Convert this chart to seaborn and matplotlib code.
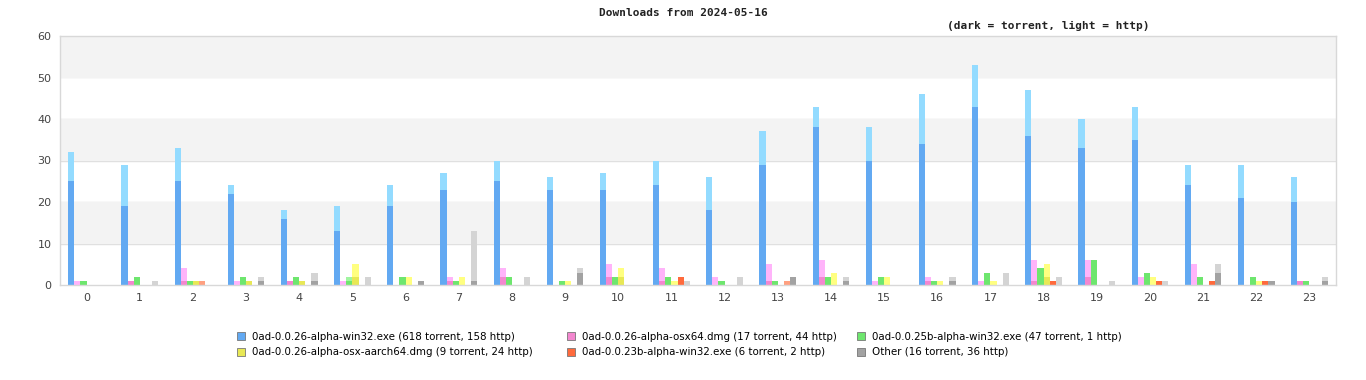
import matplotlib
matplotlib.use("Agg")
import matplotlib.pyplot as plt
from matplotlib.patches import Patch
import seaborn as sns
import pandas as pd

hours = list(range(24))

series_names = [
    "0ad-0.0.26-alpha-win32.exe",
    "0ad-0.0.26-alpha-osx64.dmg",
    "0ad-0.0.25b-alpha-win32.exe",
    "0ad-0.0.26-alpha-osx-aarch64.dmg",
    "0ad-0.0.23b-alpha-win32.exe",
    "Other",
]

# torrent / http downloads per hour
win32_torrent = [25, 19, 25, 22, 16, 13, 19, 23, 25, 23, 23, 24, 18, 29, 38, 30, 34, 43, 36, 33, 35, 24, 21, 20]
win32_http = [7, 10, 8, 2, 2, 6, 5, 4, 5, 3, 4, 6, 8, 8, 5, 8, 12, 10, 11, 7, 8, 5, 8, 6]
osx64_torrent = [0, 1, 1, 0, 1, 0, 0, 1, 2, 0, 2, 1, 0, 1, 2, 0, 1, 0, 1, 2, 0, 0, 0, 1]
osx64_http = [1, 0, 3, 1, 0, 1, 0, 1, 2, 0, 3, 3, 2, 4, 4, 1, 1, 1, 5, 4, 2, 5, 0, 0]
win32_25b_torrent = [1, 2, 1, 2, 2, 1, 2, 1, 2, 1, 2, 2, 1, 1, 2, 2, 1, 3, 4, 6, 3, 2, 2, 1]
win32_25b_http = [0, 0, 0, 0, 0, 1, 0, 0, 0, 0, 0, 0, 0, 0, 0, 0, 0, 0, 0, 0, 0, 0, 0, 0]
aarch64_torrent = [0, 0, 1, 1, 1, 2, 0, 0, 0, 0, 2, 0, 0, 0, 0, 0, 0, 0, 2, 0, 0, 0, 0, 0]
aarch64_http = [0, 0, 0, 0, 0, 3, 2, 2, 0, 1, 2, 1, 0, 0, 3, 2, 1, 1, 3, 0, 2, 0, 1, 0]
win32_23b_torrent = [0, 0, 0, 0, 0, 0, 0, 0, 0, 0, 0, 2, 0, 0, 0, 0, 0, 0, 1, 0, 1, 1, 1, 0]
win32_23b_http = [0, 0, 1, 0, 0, 0, 0, 0, 0, 0, 0, 0, 0, 1, 0, 0, 0, 0, 0, 0, 0, 0, 0, 0]
other_torrent = [0, 0, 0, 1, 1, 0, 1, 1, 0, 3, 0, 0, 0, 2, 1, 0, 1, 0, 0, 0, 0, 3, 1, 1]
other_http = [0, 1, 0, 1, 2, 2, 0, 12, 2, 1, 0, 1, 2, 0, 1, 0, 1, 3, 2, 1, 1, 2, 0, 1]

torrent_lists = [win32_torrent, osx64_torrent, win32_25b_torrent, aarch64_torrent, win32_23b_torrent, other_torrent]
http_lists = [win32_http, osx64_http, win32_25b_http, aarch64_http, win32_23b_http, other_http]

dark_colors = ["#62a9f2", "#f387cf", "#6ee66e", "#e8e855", "#ff6a3c", "#a2a2a2"]
light_colors = ["#93dbff", "#ffb4fa", "#a0f5a0", "#ffff80", "#ffa080", "#d4d4d4"]

rows = []
for name, tor, htp in zip(series_names, torrent_lists, http_lists):
    for h, t, w in zip(hours, tor, htp):
        rows.append({"hour": h, "series": name, "torrent": t, "http": w, "total": t + w})
df = pd.DataFrame(rows)

fig = plt.figure(figsize=(13.66, 3.8), dpi=100)
ax = fig.add_axes([60 / 1366, 95 / 380, 1276 / 1366, 249 / 380])

# alternating background bands
for lo in (10, 30, 50):
    ax.axhspan(lo, lo + 10, color="#f3f3f3", zorder=0, lw=0)
for y in range(10, 60, 10):
    ax.axhline(y, color="#e0e0e0", lw=1, zorder=0.5)

common = dict(data=df, x="hour", hue="series", order=hours, hue_order=series_names,
              width=0.69, dodge=True, saturation=1, linewidth=0, legend=False,
              errorbar=None, ax=ax)
sns.barplot(y="total", palette=light_colors, **common)
sns.barplot(y="torrent", palette=dark_colors, **common)

for b in ax.patches:
    b.set_zorder(2)

ax.set_xlim(-0.5, 23.5)
ax.set_ylim(0, 60)
ax.set_yticks(range(0, 61, 10))
ax.set_xlabel("")
ax.set_ylabel("")
ax.tick_params(length=0, labelsize=8, colors="#444444", pad=6)
for s in ax.spines.values():
    s.set_color("#d8d8d8")
    s.set_linewidth(1)

fig.text(0.5, 1 - 13 / 380, "Downloads from 2024-05-16", ha="center", va="center",
         family="DejaVu Sans Mono", fontsize=8, fontweight="bold", color="#222222")
fig.text(1048 / 1366, 1 - 26 / 380, "(dark = torrent, light = http)", ha="center", va="center",
         family="DejaVu Sans Mono", fontsize=8, fontweight="bold", color="#222222")

labels = [f"{n} ({sum(t)} torrent, {sum(h)} http)" for n, t, h in zip(series_names, torrent_lists, http_lists)]
handles = [Patch(facecolor=c, edgecolor="#777777", linewidth=0.6) for c in dark_colors]

# three legend columns, entries read row by row
col_x = [237, 567, 857]
for col, x in enumerate(col_x):
    idx = [col, col + 3]
    fig.legend([handles[i] for i in idx], [labels[i] for i in idx],
               loc="center left", bbox_to_anchor=(x / 1366, 1 - 344.5 / 380),
               frameon=False, borderpad=0, borderaxespad=0,
               handlelength=0.75, handleheight=0.75, handletextpad=0.75,
               labelspacing=0.55, prop={"family": "DejaVu Sans", "size": 7.4})

fig.savefig("out.png", dpi=100)
